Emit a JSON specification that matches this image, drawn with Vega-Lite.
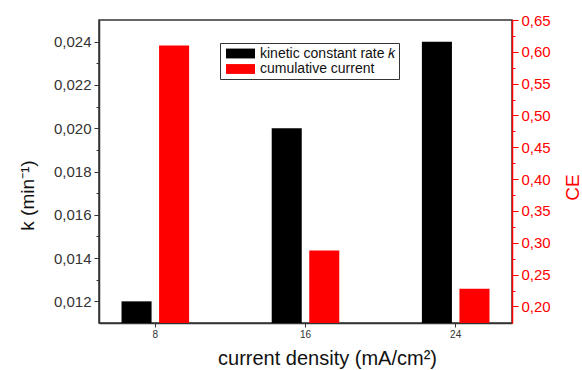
{
  "$schema": "https://vega.github.io/schema/vega-lite/v6.json",
  "width": 413,
  "height": 303,
  "autosize": {"type": "none"},
  "padding": {"left": 99, "top": 20, "right": 70, "bottom": 47},
  "background": "white",
  "config": {
    "view": {"stroke": "#333333", "strokeWidth": 1.5},
    "font": "Liberation Sans",
    "axis": {"grid": false, "labelFont": "Liberation Sans", "titleFont": "Liberation Sans", "titleFontWeight": "normal"}
  },
  "data": {
    "values": [
      {"density": "8", "series": "kinetic constant rate 𝑘", "value": 0.012},
      {"density": "8", "series": "cumulative current", "value": 0.61},
      {"density": "16", "series": "kinetic constant rate 𝑘", "value": 0.020},
      {"density": "16", "series": "cumulative current", "value": 0.288},
      {"density": "24", "series": "kinetic constant rate 𝑘", "value": 0.024},
      {"density": "24", "series": "cumulative current", "value": 0.228}
    ]
  },
  "encoding": {
    "x": {
      "field": "density",
      "type": "nominal",
      "sort": ["8", "16", "24"],
      "scale": {"paddingInner": 0.55, "paddingOuter": 0.15},
      "axis": {
        "title": "current density (mA/cm²)",
        "titleFontSize": 20,
        "titleColor": "#111111",
        "titleX": 228,
        "titleY": 35,
        "titleBaseline": "middle",
        "labelAngle": 0,
        "labelFontSize": 10,
        "labelColor": "#333333",
        "labelPadding": 2,
        "tickSize": 4,
        "tickColor": "#333333",
        "domainColor": "#333333",
        "domainWidth": 1.5
      }
    },
    "xOffset": {
      "field": "series",
      "type": "nominal",
      "scale": {"domain": ["kinetic constant rate 𝑘", "cumulative current"], "paddingInner": 0.2, "paddingOuter": 0}
    },
    "color": {
      "field": "series",
      "type": "nominal",
      "scale": {"domain": ["kinetic constant rate 𝑘", "cumulative current"], "range": ["#000000", "#ff0000"]},
      "legend": {
        "title": null,
        "orient": "none",
        "legendX": 121,
        "legendY": 23,
        "padding": 3,
        "strokeColor": "#333333",
        "fillColor": "white",
        "symbolType": "M-2,-0.68H2V0.68H-2Z",
        "symbolSize": 210,
        "symbolStrokeWidth": 0,
        "symbolOffset": 10,
        "labelOffset": 12,
        "labelFontSize": 14,
        "labelColor": "#111111",
        "rowPadding": 0.5
      }
    }
  },
  "layer": [
    {
      "transform": [{"filter": "datum.series == 'kinetic constant rate 𝑘'"}],
      "mark": {"type": "bar"},
      "encoding": {
        "y": {
          "field": "value",
          "type": "quantitative",
          "scale": {"domain": [0.011, 0.025], "zero": false, "nice": false},
          "axis": {
            "orient": "left",
            "title": "k (min⁻¹)",
            "titleFontSize": 19,
            "titleColor": "#111111",
            "titleX": -72,
            "titleY": 175,
            "titleAngle": -90,
            "titleBaseline": "middle",
            "titleAlign": "center",
            "values": [0.012, 0.013, 0.014, 0.015, 0.016, 0.017, 0.018, 0.019, 0.020, 0.021, 0.022, 0.023, 0.024],
            "labelExpr": "round(datum.value*1000)%2==0 ? replace(format(datum.value,'.3f'),'.',',') : ''",
            "labelOverlap": false,
            "labelFlush": false,
            "labelFontSize": 15,
            "labelColor": "#333333",
            "labelPadding": 3,
            "tickSize": {"condition": {"test": "round(datum.value*1000)%2==0", "value": 5}, "value": 3},
            "tickColor": "#333333",
            "domainColor": "#333333",
            "domainWidth": 1.5
          }
        },
        "y2": {"datum": 0.011}
      }
    },
    {
      "transform": [{"filter": "datum.series == 'cumulative current'"}],
      "mark": {"type": "bar"},
      "encoding": {
        "y": {
          "field": "value",
          "type": "quantitative",
          "scale": {"domain": [0.174, 0.65], "zero": false, "nice": false},
          "axis": {
            "orient": "right",
            "title": "CE",
            "titleFontSize": 19,
            "titleColor": "#ff0000",
            "titleX": 60,
            "titleY": 167,
            "titleAngle": -90,
            "titleBaseline": "middle",
            "titleAlign": "center",
            "values": [0.2, 0.225, 0.25, 0.275, 0.3, 0.325, 0.35, 0.375, 0.4, 0.425, 0.45, 0.475, 0.5, 0.525, 0.55, 0.575, 0.6, 0.625, 0.65],
            "labelExpr": "round(datum.value*1000)%50==0 ? replace(format(datum.value,'.2f'),'.',',') : ''",
            "labelOverlap": false,
            "labelFlush": false,
            "labelFontSize": 15,
            "labelColor": "#ff0000",
            "labelPadding": 3,
            "tickSize": {"condition": {"test": "round(datum.value*1000)%50==0", "value": 6}, "value": 3},
            "tickColor": "#ff0000",
            "domainColor": "#ff0000",
            "domainWidth": 1.5
          }
        },
        "y2": {"datum": 0.174}
      }
    }
  ],
  "resolve": {"scale": {"y": "independent"}}
}
